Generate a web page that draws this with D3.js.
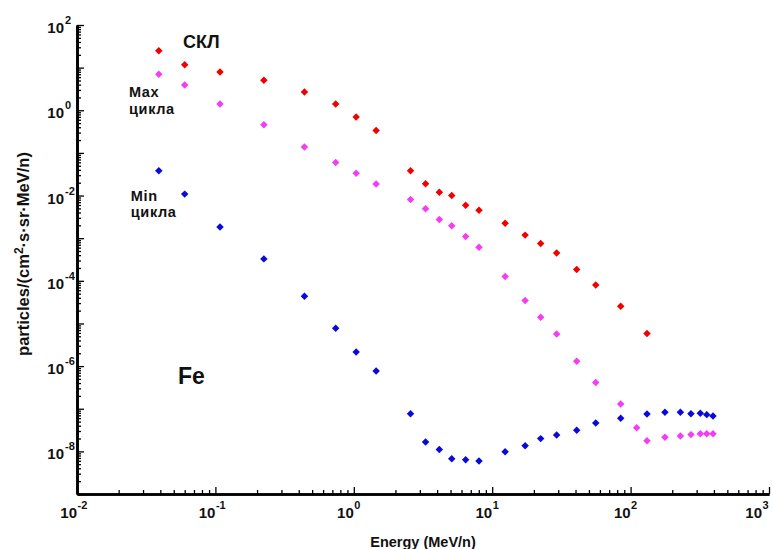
<!DOCTYPE html>
<html>
<head>
<meta charset="utf-8">
<script src="https://cdn.jsdelivr.net/npm/d3@7"></script>
<style>
  html, body { margin: 0; padding: 0; background: #fff; }
  svg { display: block; }
  text { font-family: "Liberation Sans", Arial, sans-serif; font-weight: bold; fill: #111; }
</style>
</head>
<body>
<svg id="chart" width="773" height="549"></svg>
<script>
// Fe differential flux, particles/(cm2 s sr MeV/n), per energy channel (MeV/n)
const energy = [0.039, 0.060, 0.108, 0.224, 0.44, 0.74, 1.04, 1.45, 2.57, 3.3,
                4.15, 5.1, 6.43, 8.03, 12.4, 17.3, 22.4, 29.2, 40.8, 56,
                84.8, 110.7, 131.4, 177, 229, 273, 319, 355, 394];

// solar energetic particles (СКЛ)
const fluxSEP = [24.9, 11.7, 7.88, 5.03, 2.67, 1.40, 0.692, 0.337, 0.0380, 0.0188,
                 0.0120, 0.0100, 0.00595, 0.00454, 0.00225, 0.00118, 7.5e-4, 4.5e-4, 1.84e-4, 8.0e-5,
                 2.53e-5, null, 5.8e-6];

// solar cycle maximum
const fluxMax = [6.96, 3.91, 1.40, 0.457, 0.137, 0.0598, 0.0332, 0.0187, 0.00810, 0.00488,
                 0.00275, 0.00195, 0.00110, 6.15e-4, 1.26e-4, 3.45e-5, 1.40e-5, 5.67e-6, 1.30e-6, 4.10e-7,
                 1.29e-7, 3.60e-8, 1.78e-8, 2.13e-8, 2.29e-8, 2.47e-8, 2.60e-8, 2.60e-8, 2.60e-8];

// solar cycle minimum
const fluxMin = [0.0380, 0.0108, 1.84e-3, 3.27e-4, 4.35e-5, 7.7e-6, 2.14e-6, 7.67e-7, 7.67e-8, 1.65e-8,
                 1.11e-8, 6.74e-9, 6.38e-9, 5.92e-9, 9.84e-9, 1.36e-8, 1.99e-8, 2.42e-8, 3.11e-8, 4.62e-8,
                 5.95e-8, null, 7.51e-8, 8.23e-8, 8.23e-8, 7.67e-8, 7.80e-8, 7.27e-8, 6.75e-8];

const xMajor = [1e-2, 1e-1, 1e0, 1e1, 1e2, 1e3];
const xLabelExp = ["-2", "-1", "0", "1", "2", "3"];
const yMajor = [1e-9, 1e-8, 1e-7, 1e-6, 1e-5, 1e-4, 1e-3, 1e-2, 1e-1, 1e0, 1e1, 1e2];
const yLabelVals = [1e-8, 1e-6, 1e-4, 1e-2, 1e0, 1e2];
const yLabelExp = ["-8", "-6", "-4", "-2", "0", "2"];

const series = [
  { values: fluxSEP, color: "#f20000" },
  { values: fluxMax, color: "#f53cf5" },
  { values: fluxMin, color: "#0a0ad8" }
];

// text annotations placed at (energy, flux)
const notes = [
  { text: "СКЛ", ex: 0.0583, fy: 28.8, size: 18 },
  { text: "Max", ex: 0.0238, fy: 2.10, size: 14.5 },
  { text: "цикла", ex: 0.0238, fy: 0.84, size: 14.5 },
  { text: "Min", ex: 0.0245, fy: 0.0074, size: 14.5 },
  { text: "цикла", ex: 0.0245, fy: 0.0031, size: 14.5 },
  { text: "Fe", ex: 0.0537, fy: 3.74e-7, size: 23 }
];

const svg = d3.select("#chart");
const x = d3.scaleLog().domain([1e-2, 1e3]).range([77, 769]);
const y = d3.scaleLog().domain([1e-9, 1e2]).range([494, 25]);

function minorTicks(decades) {
  const out = [];
  decades.slice(0, -1).forEach(d => { for (let k = 2; k <= 9; k++) out.push(d * k); });
  return out;
}

const axisStyle = g => {
  g.selectAll(".tick line").attr("stroke", "#000").attr("stroke-width", 1.3);
  g.select(".domain").attr("stroke", "#000").attr("stroke-width", 2.6);
  g.selectAll(".tick text").remove();
};

// x axis: ticks point into the plot
svg.append("g").attr("transform", "translate(0,494)")
  .call(d3.axisBottom(x).tickValues(minorTicks(xMajor)).tickSizeInner(-4).tickSizeOuter(0).tickFormat(""))
  .call(axisStyle);
svg.append("g").attr("transform", "translate(0,494)")
  .call(d3.axisBottom(x).tickValues(xMajor).tickSizeInner(-7).tickSizeOuter(0).tickFormat(""))
  .call(axisStyle);

// y axis
svg.append("g").attr("transform", "translate(77,0)")
  .call(d3.axisLeft(y).tickValues(minorTicks(yMajor)).tickSizeInner(-4).tickSizeOuter(0).tickFormat(""))
  .call(axisStyle);
svg.append("g").attr("transform", "translate(77,0)")
  .call(d3.axisLeft(y).tickValues(yMajor).tickSizeInner(-7).tickSizeOuter(0).tickFormat(""))
  .call(axisStyle);

// power-of-ten tick labels: "10" ends at the tick, exponent raised after it
xMajor.forEach((v, i) => {
  const px = Math.min(x(v), 762);
  svg.append("text").attr("x", px).attr("y", 518).attr("text-anchor", "end")
    .attr("font-size", 15).text("10");
  svg.append("text").attr("x", px + 0.5).attr("y", 509).attr("font-size", 11).text(xLabelExp[i]);
});
yLabelVals.forEach((v, i) => {
  svg.append("text").attr("x", 64).attr("y", y(v) + 8).attr("text-anchor", "end")
    .attr("font-size", 15).text("10");
  svg.append("text").attr("x", 65).attr("y", y(v) - 1).attr("font-size", 11).text(yLabelExp[i]);
});

// axis titles
svg.append("text").attr("x", 423).attr("y", 547).attr("text-anchor", "middle")
  .attr("font-size", 14.5).text("Energy (MeV/n)");
const yt = svg.append("text").attr("transform", "translate(29,254) rotate(-90)")
  .attr("text-anchor", "middle").attr("font-size", 16.5);
yt.append("tspan").text("particles/(cm");
yt.append("tspan").attr("dy", -6).attr("font-size", 12).text("2");
yt.append("tspan").attr("dy", 6).text("·s·sr·MeV/n)");

// data markers: small square diamonds
const diamond = d3.symbol().type(d3.symbolSquare).size(28);
series.forEach(s => {
  const pts = s.values.map((v, i) => ({ e: energy[i], f: v })).filter(d => d.f != null);
  svg.append("g").selectAll("path").data(pts).join("path")
    .attr("d", diamond)
    .attr("transform", d => `translate(${x(d.e)},${y(d.f)}) rotate(45)`)
    .attr("fill", s.color);
});

// annotations
notes.forEach(n => {
  svg.append("text").attr("x", x(n.ex)).attr("y", y(n.fy)).attr("font-size", n.size)
    .attr("letter-spacing", n.size < 16 ? 0.6 : 0).text(n.text);
});
</script>
</body>
</html>
